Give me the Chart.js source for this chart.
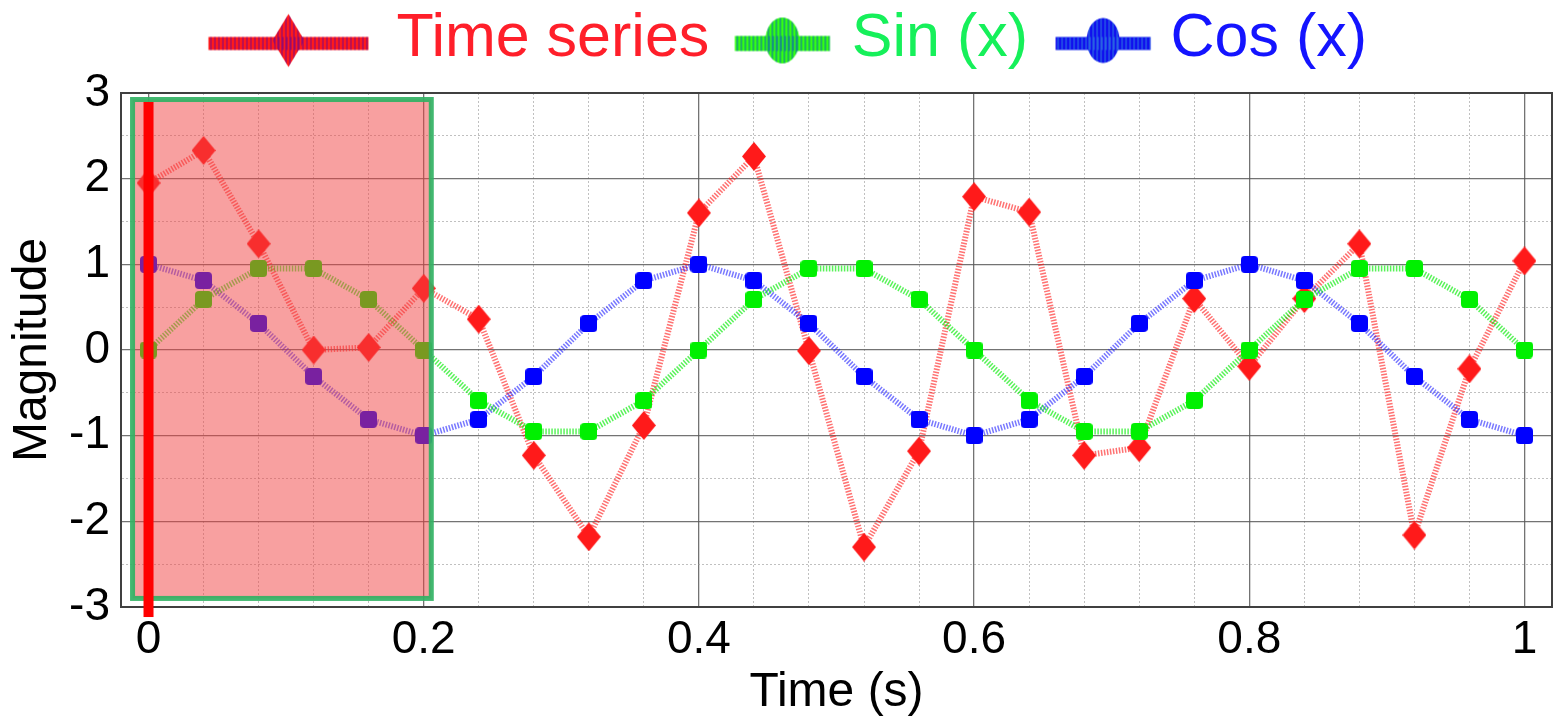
<!DOCTYPE html>
<html><head><meta charset="utf-8">
<script src="https://cdn.jsdelivr.net/npm/chart.js@4.4.1/dist/chart.umd.min.js"></script>
<style>html,body{margin:0;padding:0;background:#fff;overflow:hidden}</style>
</head><body>
<canvas id="c" width="1555" height="720" style="display:block;width:1555px;height:720px"></canvas>
<script>
// ---------- data ----------
const timeValues = [0,0.04,0.08,0.12,0.16,0.2,0.24,0.28,0.32,0.36,0.4,0.44,0.48,0.52,0.56,0.6,0.64,0.68,0.72,0.76,0.8,0.84,0.88,0.92,0.96,1];
const timeSeries = [1.95,2.33,1.24,0.0,0.03,0.72,0.36,-1.23,-2.18,-0.88,1.6,2.26,-0.01,-2.3,-1.18,1.79,1.61,-1.23,-1.14,0.6,-0.19,0.6,1.24,-2.16,-0.22,1.04];
const sinValues = [0,0.59,0.95,0.95,0.59,0,-0.59,-0.95,-0.95,-0.59,0,0.59,0.95,0.95,0.59,0,-0.59,-0.95,-0.95,-0.59,0,0.59,0.95,0.95,0.59,0];
const cosValues = [1,0.81,0.31,-0.31,-0.81,-1,-0.81,-0.31,0.31,0.81,1,0.81,0.31,-0.31,-0.81,-1,-0.81,-0.31,0.31,0.81,1,0.81,0.31,-0.31,-0.81,-1];
const seriesNames = ['Time series','Sin (x)','Cos (x)'];
const xLabelValues = [0,0.2,0.4,0.6,0.8,1];
const xLabelTexts = ['0','0.2','0.4','0.6','0.8','1'];
const yLabelValues = [-3,-2,-1,0,1,2,3];
const yLabelTexts = ['-3','-2','-1','0','1','2','3'];
const xTitle = 'Time (s)';
const yTitle = 'Magnitude';
const xRange = [-0.02, 1.02];
const yRange = [-3, 3];
const highlightX = [-0.0116, 0.2055];
const highlightY = [-2.90, 2.924];
const markerLineX = 0;
const markerLineY = [-3.117, 2.895];

// ---------- styling helpers ----------
const FONT = "'Liberation Sans', Arial, sans-serif";
Chart.defaults.font.family = FONT;
Chart.defaults.color = '#000';
const LEGEND_BOX = 112;
const LEGEND_FONT = 61;

function diamond(color, w, h) {
  const c = document.createElement('canvas'); c.width = w; c.height = h;
  const g = c.getContext('2d');
  g.fillStyle = color; g.beginPath();
  g.moveTo(w/2, 0); g.lineTo(w, h/2); g.lineTo(w/2, h); g.lineTo(0, h/2); g.closePath(); g.fill();
  return c;
}
function roundSquare(color, s, r) {
  const c = document.createElement('canvas'); c.width = s; c.height = s;
  const g = c.getContext('2d');
  g.fillStyle = color; g.beginPath(); g.roundRect(0, 0, s, s, r); g.fill();
  return c;
}
// legend glyph: thick hatched line with a marker, right-aligned before the text
function legendGlyph(kind, color, stripe, lineLen, thick, mw, mh, gap) {
  const W = 210, H = 60;
  const c = document.createElement('canvas'); c.width = W; c.height = H;
  const g = c.getContext('2d');
  const right = W/2 + LEGEND_BOX/2 + LEGEND_FONT/2 - gap;
  const left = right - lineLen;
  const cy = H/2 + 1;
  const mx = (left + right) / 2;
  const path = new Path2D();
  path.rect(left, cy - thick/2 + 3, lineLen, thick);
  const m = new Path2D();
  if (kind === 'diamond') {
    m.moveTo(mx, cy - mh/2); m.lineTo(mx + mw/2, cy); m.lineTo(mx, cy + mh/2); m.lineTo(mx - mw/2, cy); m.closePath();
  } else {
    m.ellipse(mx, cy, mw/2, mh/2, 0, 0, Math.PI*2);
  }
  g.fillStyle = color; g.fill(path); g.fill(m);
  g.save();
  g.clip(path);
  g.strokeStyle = stripe; g.lineWidth = 1;
  for (let x = left + 2; x < right; x += 4) { g.beginPath(); g.moveTo(x+0.5, 0); g.lineTo(x+0.5, H); g.stroke(); }
  g.restore();
  g.save(); g.clip(m);
  g.strokeStyle = stripe; g.lineWidth = 1;
  for (let x = left + 1; x < right; x += 4) { g.beginPath(); g.moveTo(x+0.5, 0); g.lineTo(x+0.5, H); g.stroke(); }
  g.restore();
  return c;
}

const legendItems = [
  {text: seriesNames[0], fontColor: '#ff1f2a', pointStyle: legendGlyph('diamond', '#ff1a1a', 'rgba(80,0,170,0.75)', 160, 13, 32, 53, 28), datasetIndex: 0},
  {text: seriesNames[1], fontColor: '#16f05a', pointStyle: legendGlyph('ellipse', '#33ff11', 'rgba(0,60,220,0.8)', 95, 15, 34, 46, 22), datasetIndex: 1},
  {text: seriesNames[2], fontColor: '#1414ff', pointStyle: legendGlyph('ellipse', '#1010ee', 'rgba(60,170,220,0.7)', 95, 13, 33, 45, 20), datasetIndex: 2}
].map(o => Object.assign({hidden:false, lineWidth:0, strokeStyle:'rgba(0,0,0,0)', fillStyle:'rgba(0,0,0,0)'}, o));

const isNear = (a, b) => Math.abs(a - b) < 1e-6;
const xLabelFor = v => { const i = xLabelValues.findIndex(t => isNear(t, v)); return i >= 0 ? xLabelTexts[i] : ''; };
const yLabelFor = v => { const i = yLabelValues.findIndex(t => isNear(t, v)); return i >= 0 ? yLabelTexts[i] : ''; };
const xMajor = v => xLabelValues.some(t => isNear(t, v));
const yMajor = v => yLabelValues.some(t => isNear(t, v));

const overlayPlugin = {
  id: 'overlay',
  afterDatasetsDraw(chart) {
    const {ctx, scales: {x, y}} = chart;
    const l = x.getPixelForValue(highlightX[0]), r = x.getPixelForValue(highlightX[1]);
    const t = y.getPixelForValue(highlightY[1]), b = y.getPixelForValue(highlightY[0]);
    ctx.save();
    ctx.fillStyle = 'rgba(241,66,66,0.5)';
    ctx.fillRect(l, t, r - l, b - t);
    ctx.strokeStyle = 'rgba(50,178,100,0.92)';
    ctx.lineWidth = 5;
    ctx.strokeRect(l, t, r - l, b - t);
    const mx = x.getPixelForValue(markerLineX);
    const my1 = y.getPixelForValue(markerLineY[1]), my2 = y.getPixelForValue(markerLineY[0]);
    ctx.fillStyle = '#ff0000';
    ctx.fillRect(mx - 5, my1, 10, my2 - my1);
    ctx.restore();
  }
};

const toPts = arr => timeValues.map((t, i) => ({x: t, y: arr[i]}));

new Chart(document.getElementById('c'), {
  type: 'line',
  data: {
    datasets: [
      {label: seriesNames[0], data: toPts(timeSeries), order: 3,
       borderColor: 'rgba(255,20,20,0.6)', borderWidth: 6, borderDash: [1.5, 1.5],
       pointStyle: diamond('#ff1a1a', 24, 29), pointRadius: 12, tension: 0, fill: false},
      {label: seriesNames[1], data: toPts(sinValues), order: 1,
       borderColor: 'rgba(0,235,0,0.65)', borderWidth: 6, borderDash: [1.5, 1.5],
       pointStyle: roundSquare('#00f000', 17, 4), pointRadius: 9, tension: 0, fill: false},
      {label: seriesNames[2], data: toPts(cosValues), order: 2,
       borderColor: 'rgba(30,30,255,0.6)', borderWidth: 6, borderDash: [1.5, 1.5],
       pointStyle: roundSquare('#0000ff', 17, 4), pointRadius: 9, tension: 0, fill: false}
    ]
  },
  options: {
    responsive: false, animation: false, devicePixelRatio: 1, events: [],
    layout: {autoPadding: false, padding: {top: 9, left: 66, right: 0, bottom: 0}},
    plugins: {
      tooltip: {enabled: false},
      legend: {
        position: 'top', align: 'center',
        labels: {
          usePointStyle: true, pointStyleWidth: LEGEND_BOX, padding: 0,
          font: {size: LEGEND_FONT, family: FONT},
          generateLabels: () => legendItems
        }
      }
    },
    scales: {
      x: {
        type: 'linear', position: 'bottom', min: xRange[0], max: xRange[1],
        afterBuildTicks: s => { s.ticks = timeValues.map(v => ({value: v})); },
        afterFit: s => { s.height = 113; s.paddingLeft = 0; s.paddingRight = 0; },
        grid: {
          drawTicks: false,
          color: c => (c.tick && xMajor(c.tick.value)) ? 'rgba(90,90,90,0.85)' : 'rgba(150,150,150,0.6)',
          lineWidth: c => (c.tick && xMajor(c.tick.value)) ? 1.3 : 1
        },
        border: {display: true, color: '#404040', width: 2,
          dash: c => (c.tick && !xMajor(c.tick.value)) ? [2, 2] : []},
        ticks: {autoSkip: false, maxRotation: 0, padding: 6, font: {size: 46}, color: '#000',
          callback: v => xLabelFor(v)},
        title: {display: true, text: xTitle, font: {size: 48}, color: '#000', padding: {top: 0, bottom: -2}}
      },
      y: {
        type: 'linear', position: 'left', min: yRange[0], max: yRange[1],
        afterFit: s => { s.width = 55; s.paddingTop = 0; s.paddingBottom = 0; },
        grid: {
          drawTicks: false,
          color: c => (c.tick && yMajor(c.tick.value)) ? 'rgba(90,90,90,0.85)' : 'rgba(150,150,150,0.6)',
          lineWidth: c => (c.tick && yMajor(c.tick.value)) ? 1.3 : 1
        },
        border: {display: true, color: '#404040', width: 2,
          dash: c => (c.tick && !yMajor(c.tick.value)) ? [2, 2] : []},
        ticks: {stepSize: 0.5, autoSkip: false, padding: 11, font: {size: 46}, color: '#000',
          callback: v => yLabelFor(v)},
        title: {display: true, text: yTitle, font: {size: 48}, color: '#000', padding: {top: -62, bottom: 0}}
      },
      x2: {
        type: 'linear', position: 'top', min: xRange[0], max: xRange[1],
        afterFit: s => { s.height = 13; s.paddingLeft = 0; s.paddingRight = 0; },
        grid: {display: false, drawTicks: false},
        ticks: {display: false},
        border: {display: true, color: '#404040', width: 2}
      },
      y2: {
        type: 'linear', position: 'right', min: yRange[0], max: yRange[1],
        afterFit: s => { s.width = 3; s.paddingTop = 0; s.paddingBottom = 0; },
        grid: {display: false, drawTicks: false},
        ticks: {display: false},
        border: {display: true, color: '#404040', width: 2}
      }
    }
  },
  plugins: [overlayPlugin]
});
</script>
</body></html>
